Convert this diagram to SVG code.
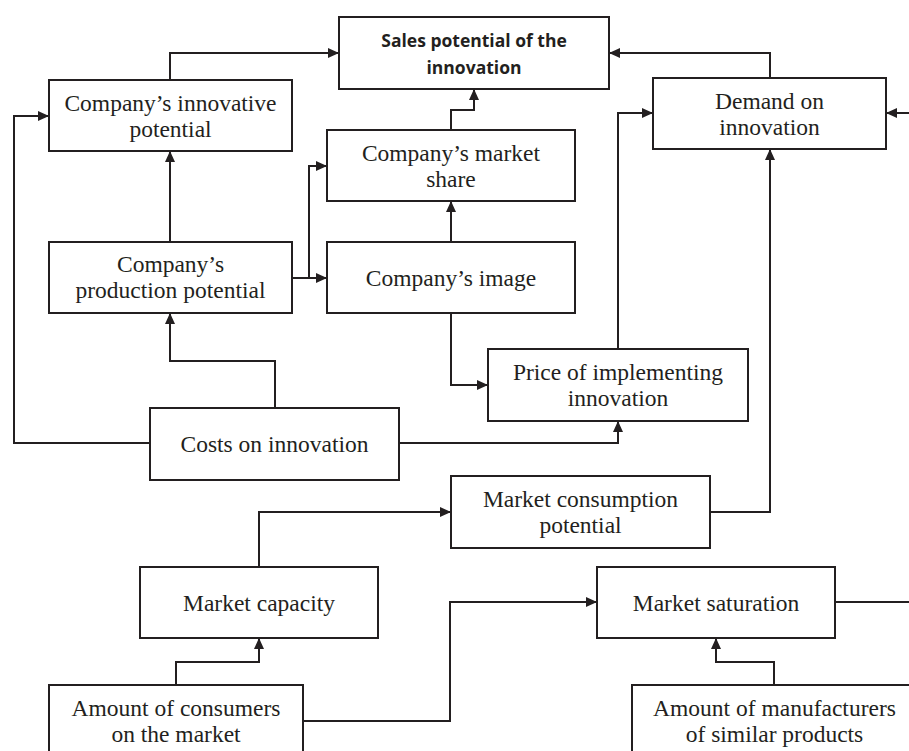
<svg xmlns="http://www.w3.org/2000/svg" width="909" height="751" viewBox="0 0 909 751">
<style>
.box{fill:#fff;stroke:#231f20;stroke-width:2}
.t{font-family:"Liberation Serif","Times New Roman",serif;font-size:23.5px;fill:#231f20;text-anchor:middle}
.b{font-family:"Open Sans","Liberation Sans",sans-serif;font-size:17.5px;font-weight:bold;fill:#231f20;text-anchor:middle}
.c{fill:none;stroke:#231f20;stroke-width:2}
.a{marker-end:url(#arr)}
</style>
<defs>
<marker id="arr" markerUnits="userSpaceOnUse" markerWidth="12" markerHeight="11" refX="11" refY="5.5" orient="auto">
<path d="M0,0.5 L11,5.5 L0,10.5 z" fill="#231f20"/>
</marker>
</defs>
<rect width="909" height="751" fill="#fff"/>
<g id="connectors">
<path class="c a" d="M170,80 V53 H339"/>
<path class="c a" d="M770,78 V53 H609"/>
<path class="c a" d="M451,130 V110 H474 V89"/>
<path class="c a" d="M451,242 V201"/>
<path class="c a" d="M170,242 V151"/>
<path class="c a" d="M292,278 H327"/>
<path class="c a" d="M309,278 V166 H327"/>
<path class="c a" d="M275,408 V361 H170 V313"/>
<path class="c a" d="M150,443 H14 V116 H49"/>
<path class="c a" d="M399,443 H618 V421"/>
<path class="c a" d="M451,313 V385 H488"/>
<path class="c a" d="M618,349 V113 H653"/>
<path class="c a" d="M909,113 H886"/>
<path class="c a" d="M710,512 H770 V149"/>
<path class="c a" d="M259,567 V512 H451"/>
<path class="c a" d="M176,685 V662 H259 V638"/>
<path class="c a" d="M303,721 H450 V602 H597"/>
<path class="c" d="M835,602 H909"/>
<path class="c a" d="M774,685 V662 H716 V638"/>
</g>
<g id="sales">
<rect class="box" x="339" y="17" width="270" height="72"/>
<text class="b" x="474" y="47">Sales potential of the</text>
<text class="b" x="474" y="74">innovation</text>
</g>
<g id="innovative">
<rect class="box" x="49" y="80" width="243" height="71"/>
<text class="t" x="170.5" y="111">Company’s innovative</text>
<text class="t" x="170.5" y="137">potential</text>
</g>
<g id="demand">
<rect class="box" x="653" y="78" width="233" height="71"/>
<text class="t" x="769.5" y="109">Demand on</text>
<text class="t" x="769.5" y="135">innovation</text>
</g>
<g id="marketshare">
<rect class="box" x="327" y="130" width="248" height="71"/>
<text class="t" x="451" y="160.5">Company’s market</text>
<text class="t" x="451" y="186.5">share</text>
</g>
<g id="production">
<rect class="box" x="49" y="242" width="243" height="71"/>
<text class="t" x="170.5" y="272">Company’s</text>
<text class="t" x="170.5" y="298">production potential</text>
</g>
<g id="image">
<rect class="box" x="327" y="242" width="248" height="71"/>
<text class="t" x="451" y="285.5">Company’s image</text>
</g>
<g id="price">
<rect class="box" x="488" y="349" width="260" height="72"/>
<text class="t" x="618" y="380">Price of implementing</text>
<text class="t" x="618" y="406">innovation</text>
</g>
<g id="costs">
<rect class="box" x="150" y="408" width="249" height="72"/>
<text class="t" x="274.5" y="452">Costs on innovation</text>
</g>
<g id="consumption">
<rect class="box" x="451" y="476" width="259" height="72"/>
<text class="t" x="580.5" y="507">Market consumption</text>
<text class="t" x="580.5" y="533">potential</text>
</g>
<g id="capacity">
<rect class="box" x="140" y="567" width="238" height="71"/>
<text class="t" x="259" y="610.5">Market capacity</text>
</g>
<g id="saturation">
<rect class="box" x="597" y="567" width="238" height="71"/>
<text class="t" x="716" y="610.5">Market saturation</text>
</g>
<g id="consumers">
<rect class="box" x="49" y="685" width="254" height="71"/>
<text class="t" x="176" y="715.5">Amount of consumers</text>
<text class="t" x="176" y="741.5">on the market</text>
</g>
<g id="manufacturers">
<rect class="box" x="632" y="685" width="285" height="71"/>
<text class="t" x="774.5" y="715.5">Amount of manufacturers</text>
<text class="t" x="774.5" y="741.5">of similar products</text>
</g>
</svg>
